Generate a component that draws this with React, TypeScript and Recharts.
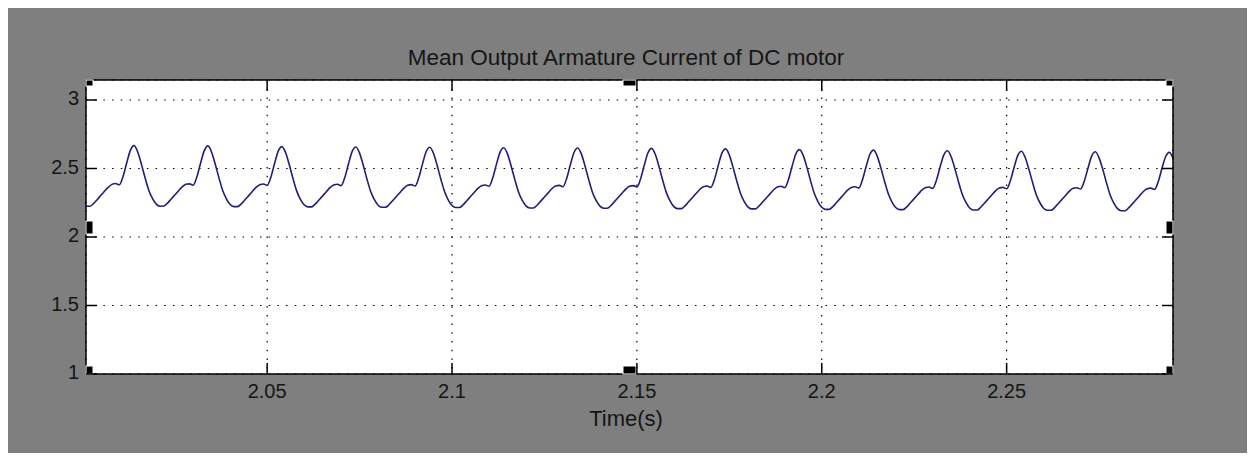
import { LineChart, Line, XAxis, YAxis, CartesianGrid, ReferenceDot } from 'recharts';

// sampling of the scope trace (s)
const sampleStart = 2.001;
const sampleStep = 0.001;

// armature current (A)
const currentLead = [
  2.226, 2.224, 2.243, 2.272, 2.303, 2.334, 2.362, 2.384, 2.39, 2.381, 2.44, 2.54, 2.632,
];
const currentPart1 = [
  2.667, 2.62, 2.53, 2.43, 2.34, 2.28, 2.24, 2.225, 2.226, 2.246, 2.276, 2.306, 2.336, 2.366, 2.385, 2.388, 2.378, 2.44, 2.54, 2.63,
  2.665, 2.617, 2.527, 2.427, 2.337, 2.277, 2.237, 2.222, 2.222, 2.242, 2.272, 2.302, 2.332, 2.362, 2.382, 2.387, 2.377, 2.437, 2.537, 2.627,
  2.66, 2.615, 2.525, 2.425, 2.335, 2.275, 2.235, 2.22, 2.22, 2.24, 2.27, 2.3, 2.33, 2.36, 2.38, 2.385, 2.375, 2.435, 2.535, 2.625,
  2.657, 2.612, 2.522, 2.422, 2.332, 2.272, 2.232, 2.217, 2.217, 2.237, 2.267, 2.297, 2.327, 2.357, 2.377, 2.382, 2.372, 2.432, 2.532, 2.622,
];
const currentPart2 = [
  2.655, 2.61, 2.52, 2.42, 2.33, 2.27, 2.23, 2.215, 2.215, 2.235, 2.265, 2.295, 2.325, 2.355, 2.375, 2.38, 2.37, 2.43, 2.53, 2.62,
  2.652, 2.607, 2.517, 2.417, 2.327, 2.267, 2.227, 2.212, 2.212, 2.232, 2.262, 2.292, 2.322, 2.352, 2.372, 2.377, 2.367, 2.427, 2.527, 2.617,
  2.65, 2.605, 2.515, 2.415, 2.325, 2.265, 2.225, 2.21, 2.21, 2.23, 2.26, 2.29, 2.32, 2.35, 2.37, 2.375, 2.365, 2.425, 2.525, 2.615,
  2.647, 2.602, 2.512, 2.412, 2.322, 2.262, 2.222, 2.207, 2.207, 2.227, 2.257, 2.287, 2.317, 2.347, 2.367, 2.372, 2.362, 2.422, 2.522, 2.612,
  2.643, 2.598, 2.51, 2.41, 2.32, 2.26, 2.22, 2.205, 2.205, 2.225, 2.255, 2.285, 2.315, 2.345, 2.365, 2.37, 2.36, 2.42, 2.518, 2.607,
];
const currentPart3 = [
  2.638, 2.594, 2.507, 2.407, 2.317, 2.257, 2.217, 2.202, 2.202, 2.222, 2.252, 2.282, 2.312, 2.342, 2.362, 2.367, 2.357, 2.417, 2.514, 2.602,
  2.634, 2.59, 2.503, 2.405, 2.315, 2.255, 2.215, 2.2, 2.2, 2.22, 2.25, 2.28, 2.31, 2.34, 2.36, 2.365, 2.355, 2.413, 2.51, 2.598,
  2.63, 2.586, 2.5, 2.402, 2.312, 2.252, 2.212, 2.197, 2.197, 2.217, 2.247, 2.277, 2.307, 2.337, 2.357, 2.362, 2.352, 2.41, 2.506, 2.594,
  2.626, 2.582, 2.497, 2.4, 2.31, 2.25, 2.21, 2.195, 2.195, 2.215, 2.245, 2.275, 2.305, 2.335, 2.355, 2.36, 2.35, 2.407, 2.502, 2.59,
  2.622, 2.578, 2.494, 2.397, 2.307, 2.247, 2.207, 2.192, 2.192, 2.212, 2.242, 2.272, 2.302, 2.332, 2.352, 2.357, 2.347, 2.404, 2.5, 2.586,
  2.618, 2.576,
];

const xTicks = [2.05, 2.1, 2.15, 2.2, 2.25];
const yTicks = [1, 1.5, 2, 2.5, 3];
const xDomain: [number, number] = [2.001, 2.295];
const yDomain: [number, number] = [1, 3.146];

const current = [...currentLead, ...currentPart1, ...currentPart2, ...currentPart3];
const data = current.map((v, i) => ({
  t: Math.round((sampleStart + i * sampleStep) * 1000) / 1000,
  i: v,
}));

const TXT = '#151515';
const FONT = '"Liberation Sans", Arial, sans-serif';

const BottomTick = (p: any) => (
  <g>
    <line x1={p.x} x2={p.x} y1={p.y} y2={p.y - 11} stroke="#000" strokeWidth={1.5} />
    <text x={p.x} y={p.y + 24} textAnchor="middle" fontSize={20} fontFamily={FONT} fill={TXT}>
      {p.payload.value}
    </text>
  </g>
);
const TopTick = (p: any) => (
  <line x1={p.x} x2={p.x} y1={p.y} y2={p.y + 11} stroke="#000" strokeWidth={1.5} />
);
const LeftTick = (p: any) => (
  <g>
    <line x1={p.x} x2={p.x + 11} y1={p.y} y2={p.y} stroke="#000" strokeWidth={1.5} />
    <text x={p.x - 7} y={p.y + 5} textAnchor="end" fontSize={20} fontFamily={FONT} fill={TXT}>
      {p.payload.value}
    </text>
  </g>
);
const RightTick = (p: any) => (
  <line x1={p.x} x2={p.x - 11} y1={p.y} y2={p.y} stroke="#000" strokeWidth={1.5} />
);

// scope selection handles: [x, y, dx, dy, w, h]
const xMid = (xDomain[0] + xDomain[1]) / 2;
const yMid = (yDomain[0] + yDomain[1]) / 2;
const handles: [number, number, number, number, number, number][] = [
  [xDomain[0], yDomain[1], 0, 0, 7, 6],
  [xDomain[0], yMid, 0, -6, 7, 13],
  [xDomain[0], yDomain[0], 0, -8, 7, 8],
  [xMid, yDomain[1], -6.5, 0, 13, 6],
  [xMid, yDomain[0], -6.5, -8, 13, 8],
  [xDomain[1], yDomain[1], -7, 0, 7, 6],
  [xDomain[1], yMid, -7, -6, 7, 13],
  [xDomain[1], yDomain[0], -7, -8, 7, 8],
];

export default function App() {
  return (
    <div style={{ position: 'relative', width: 1243, height: 445, marginLeft: -2, background: '#7f7f7f', fontFamily: FONT }}>
      <LineChart width={1243} height={445} data={data} margin={{ top: 62, right: 66, bottom: 49, left: 40 }}>
        <CartesianGrid fill="#fff" stroke="#000" strokeWidth={1.2} strokeDasharray="1.5 7.2" />
        <XAxis
          dataKey="t" type="number" domain={xDomain} ticks={xTicks} interval={0} allowDataOverflow
          height={30} tickSize={0} tickMargin={0} tickLine={false}
          axisLine={{ stroke: '#000', strokeWidth: 1.5 }} tick={BottomTick}
        />
        <XAxis
          xAxisId="top" orientation="top" dataKey="t" type="number" domain={xDomain} ticks={xTicks} interval={0} allowDataOverflow
          height={10} tickSize={0} tickMargin={0} tickLine={false}
          axisLine={{ stroke: '#000', strokeWidth: 1.5 }} tick={TopTick}
        />
        <YAxis
          type="number" domain={yDomain} ticks={yTicks} interval={0} allowDataOverflow
          width={40} tickSize={0} tickMargin={0} tickLine={false}
          axisLine={{ stroke: '#000', strokeWidth: 1.5 }} tick={LeftTick}
        />
        <YAxis
          yAxisId="right" orientation="right" type="number" domain={yDomain} ticks={yTicks} interval={0} allowDataOverflow
          width={10} tickSize={0} tickMargin={0} tickLine={false}
          axisLine={{ stroke: '#000', strokeWidth: 1.5 }} tick={RightTick}
        />
        <Line
          type="monotone" dataKey="i" stroke="#1f1f78" strokeWidth={1.6}
          dot={false} activeDot={false} isAnimationActive={false}
        />
        {handles.map(([hx, hy, dx, dy, w, h], k) => (
          <ReferenceDot
            key={k} x={hx} y={hy} r={0} ifOverflow="visible"
            shape={(p: any) => (
              <rect x={p.cx + dx} y={p.cy + dy} width={w} height={h} fill="#000" stroke="#fff" strokeWidth={1} />
            )}
          />
        ))}
      </LineChart>
      <div style={{ position: 'absolute', left: 620, top: 39, transform: 'translateX(-50%)', whiteSpace: 'nowrap', fontSize: 22.5, lineHeight: '22px', color: TXT }}>
        Mean Output Armature Current of DC motor
      </div>
      <div style={{ position: 'absolute', left: 620, top: 400, transform: 'translateX(-50%)', whiteSpace: 'nowrap', fontSize: 22, lineHeight: '22px', color: TXT }}>
        Time(s)
      </div>
    </div>
  );
}
